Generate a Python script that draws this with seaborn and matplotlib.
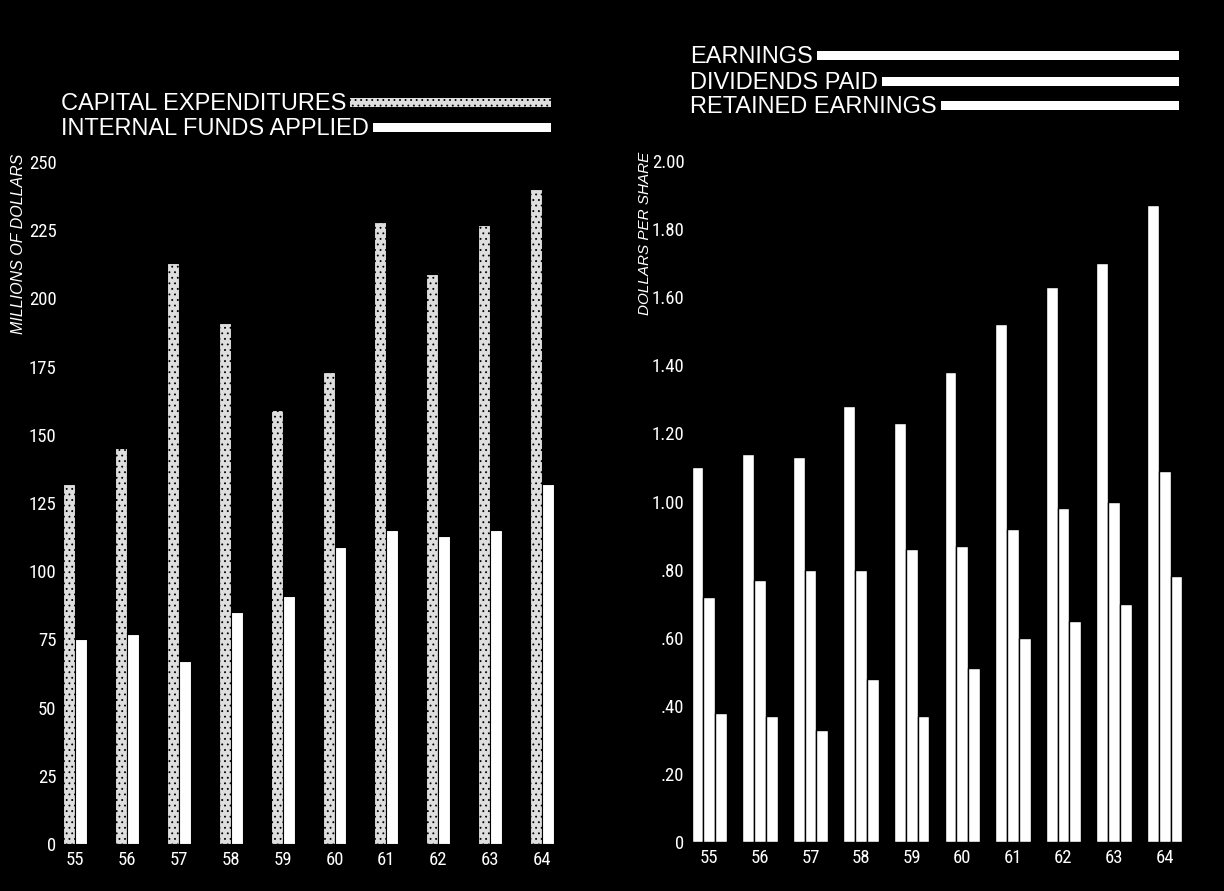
import matplotlib
matplotlib.use("Agg")
import matplotlib.pyplot as plt
import seaborn as sns
import pandas as pd
from matplotlib import font_manager
from matplotlib.font_manager import FontProperties
from matplotlib.patches import Rectangle

# ---- data -------------------------------------------------------------
years = ["55", "56", "57", "58", "59", "60", "61", "62", "63", "64"]

capital_expenditures = [132, 145, 213, 191, 159, 173, 228, 209, 227, 240]
internal_funds = [75, 77, 67, 85, 91, 109, 115, 113, 115, 132]

earnings = [1.10, 1.14, 1.13, 1.28, 1.23, 1.38, 1.52, 1.63, 1.70, 1.87]
dividends_paid = [0.72, 0.77, 0.80, 0.80, 0.86, 0.87, 0.92, 0.98, 1.00, 1.09]
retained_earnings = [0.38, 0.37, 0.33, 0.48, 0.37, 0.51, 0.60, 0.65, 0.70, 0.78]

left_ticks = [0, 25, 50, 75, 100, 125, 150, 175, 200, 225, 250]
left_tick_labels = ["0", "25", "50", "75", "100", "125", "150", "175", "200", "225", "250"]
right_ticks = [0, 0.2, 0.4, 0.6, 0.8, 1.0, 1.2, 1.4, 1.6, 1.8, 2.0]
right_tick_labels = ["0", ".20", ".40", ".60", ".80", "1.00", "1.20", "1.40",
                     "1.60", "1.80", "2.00"]

left_series = ["CAPITAL EXPENDITURES", "INTERNAL FUNDS APPLIED"]
right_series = ["EARNINGS", "DIVIDENDS PAID", "RETAINED EARNINGS"]

# ---- style ------------------------------------------------------------
sns.set_style("white")
available = {f.name for f in font_manager.fontManager.ttflist}
main_family = "Liberation Sans" if "Liberation Sans" in available else "DejaVu Sans"
plt.rcParams["font.family"] = [main_family, "DejaVu Sans"]
plt.rcParams["hatch.linewidth"] = 0.6


def regular(entry):
    return entry.style == "normal" and entry.weight in (400, "normal", "regular", "book")


def condensed_font():
    """Return the file of a narrow face for the numeric tick labels, if any."""
    entries = [f for f in font_manager.fontManager.ttflist if regular(f)]
    wanted = [
        ("Liberation Sans Narrow", None),
        ("Roboto Condensed", None),
        ("Roboto", "condensed"),
        ("Noto Sans", "condensed"),
        ("Open Sans", "condensed"),
        ("Noto Sans", "semi-condensed"),
        ("DejaVu Sans", "condensed"),
        ("Open Sans", "semi-condensed"),
        ("Noto Sans", "extra-condensed"),
    ]
    for fam, stretch in wanted:
        for f in entries:
            if f.name == fam and (stretch is None or str(f.stretch) == stretch):
                return f.fname
    for f in entries:
        if "condensed" in str(f.stretch) or "narrow" in f.name.lower():
            return f.fname
    return None


narrow_file = condensed_font()
if narrow_file:
    tick_font = FontProperties(fname=narrow_file, size=13.5)
else:
    tick_font = FontProperties(family=main_family, size=12)

W, H = 1224, 891
fig = plt.figure(figsize=(W / 100, H / 100), dpi=100, facecolor="black")


def fx(px):
    return px / W


def fy(py):
    return 1 - py / H


ax1 = fig.add_axes([fx(58), fy(844), 510 / W, (844 - 162) / H])
ax2 = fig.add_axes([fx(686), fy(842), 504 / W, (842 - 161) / H])

# ---- left panel: capital spending vs internal funds ----------------------
df_left = pd.DataFrame({
    "year": years * 2,
    "series": [left_series[0]] * len(years) + [left_series[1]] * len(years),
    "value": capital_expenditures + internal_funds,
})
sns.barplot(data=df_left, x="year", y="value", hue="series", hue_order=left_series,
            palette={left_series[0]: "#dedede", left_series[1]: "white"},
            width=0.46, saturation=1, edgecolor="black", linewidth=0.8,
            legend=False, ax=ax1)
for bar in ax1.containers[0]:
    bar.set_hatch("...")

ax1.set_xlim(-0.33, 9.5)
ax1.set_ylim(0, 250)
ax1.set_yticks(left_ticks, left_tick_labels)

# ---- right panel: per-share figures ---------------------------------------
df_right = pd.DataFrame({
    "year": years * 3,
    "series": sum([[s] * len(years) for s in right_series], []),
    "value": earnings + dividends_paid + retained_earnings,
})
sns.barplot(data=df_right, x="year", y="value", hue="series", hue_order=right_series,
            palette={s: "white" for s in right_series},
            width=0.70, saturation=1, edgecolor="black", linewidth=1.0,
            legend=False, ax=ax2)
ax2.set_xlim(-0.46, 9.5)
ax2.set_ylim(0, 2.0)
ax2.set_yticks(right_ticks, right_tick_labels)

for ax in (ax1, ax2):
    ax.set_facecolor("black")
    ax.set_xlabel("")
    ax.set_ylabel("")
    for s in ax.spines.values():
        s.set_visible(False)
    ax.tick_params(axis="both", length=0, colors="white")
    ax.tick_params(axis="x", pad=5)
    ax.tick_params(axis="y", pad=1)
    for lab in ax.get_xticklabels() + ax.get_yticklabels():
        lab.set_fontproperties(tick_font)

# ---- axis titles ---------------------------------------------------------
fig.text(fx(19), fy(154), "MILLIONS OF DOLLARS", rotation=90, ha="center", va="top",
         color="white", fontsize=11.5, style="italic")
fig.text(fx(645), fy(152), "DOLLARS PER SHARE", rotation=90, ha="center", va="top",
         color="white", fontsize=11, style="italic")

# ---- key text with trailing bars ---------------------------------------
keys = [
    (left_series[0], 61, 110, 551, "#dedede", "..."),
    (left_series[1], 61, 135, 551, "white", None),
    (right_series[0], 690, 63, 1179, "white", None),
    (right_series[1], 690, 89, 1179, "white", None),
    (right_series[2], 690, 113, 1179, "white", None),
]
texts = []
for label, x0, base, x_end, col, hatch in keys:
    t = fig.text(fx(x0), fy(base), label, ha="left", va="baseline",
                 color="white", fontsize=17)
    texts.append((t, base, x_end, col, hatch))

fig.canvas.draw()
renderer = fig.canvas.get_renderer()
for t, base, x_end, col, hatch in texts:
    bb = t.get_window_extent(renderer)
    x_start = bb.x1 + 4
    bar_h = 9
    y_center = base - 8
    rect = Rectangle((fx(x_start), fy(y_center + bar_h / 2)),
                     (x_end - x_start) / W, bar_h / H,
                     transform=fig.transFigure, facecolor=col,
                     edgecolor="black" if hatch else col, linewidth=0,
                     hatch=hatch)
    fig.patches.append(rect)

fig.savefig("out.png", dpi=100, facecolor="black")
